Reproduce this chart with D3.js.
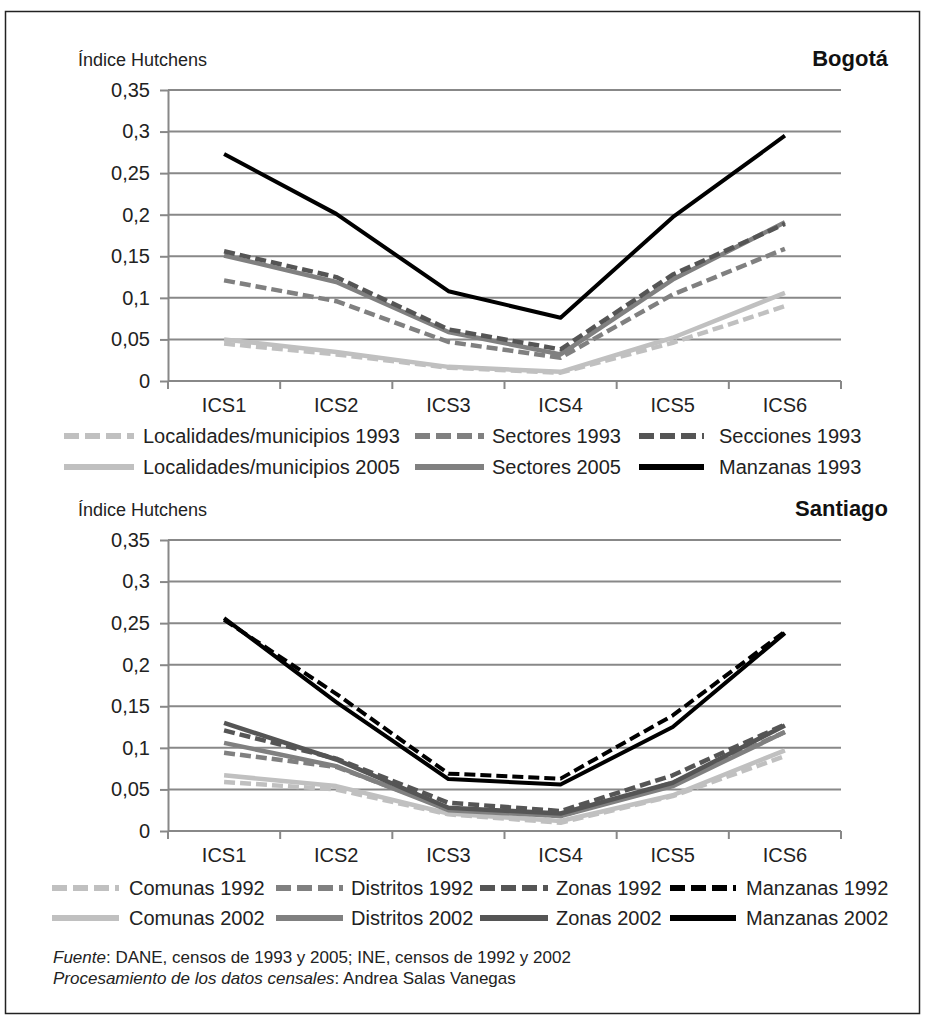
<!DOCTYPE html>
<html>
<head>
<meta charset="utf-8">
<script src="https://cdn.jsdelivr.net/npm/d3@7"></script>
<style>
  body { margin: 0; background: #fff; }
  svg { display: block; font-family: "Liberation Sans", Arial, sans-serif; }
</style>
</head>
<body>
<div id="chart"></div>
<script>
// categorias y ticks
const categories = ["ICS1", "ICS2", "ICS3", "ICS4", "ICS5", "ICS6"];
const yTicks = [0, 0.05, 0.1, 0.15, 0.2, 0.25, 0.3, 0.35];

// Bogotá
const locMun1993   = [0.045, 0.032, 0.016, 0.010, 0.046, 0.090];
const sectores1993 = [0.121, 0.096, 0.047, 0.028, 0.104, 0.159];
const secciones1993= [0.156, 0.125, 0.062, 0.038, 0.128, 0.189];
const locMun2005   = [0.050, 0.035, 0.017, 0.011, 0.052, 0.106];
const sectores2005 = [0.151, 0.119, 0.059, 0.032, 0.122, 0.191];
const manzanas1993 = [0.273, 0.201, 0.108, 0.076, 0.197, 0.295];

// Santiago
const comunas1992   = [0.059, 0.050, 0.020, 0.010, 0.042, 0.090];
const distritos1992 = [0.094, 0.077, 0.027, 0.018, 0.058, 0.119];
const zonas1992     = [0.121, 0.087, 0.034, 0.024, 0.067, 0.128];
const manzanas1992  = [0.254, 0.165, 0.069, 0.063, 0.139, 0.240];
const comunas2002   = [0.067, 0.054, 0.021, 0.012, 0.043, 0.097];
const distritos2002 = [0.106, 0.078, 0.025, 0.018, 0.054, 0.119];
const zonas2002     = [0.130, 0.086, 0.028, 0.021, 0.058, 0.127];
const manzanas2002  = [0.256, 0.155, 0.0625, 0.056, 0.125, 0.238];

const light = "#c0c0c0", mid = "#808080", dark = "#555555", black = "#000000";

const bogotaSeries = [
    {name: "Localidades/municipios 1993", values: locMun1993, color: light, dash: true},
    {name: "Sectores 1993", values: sectores1993, color: mid, dash: true},
    {name: "Secciones 1993", values: secciones1993, color: dark, dash: true},
    {name: "Localidades/municipios 2005", values: locMun2005, color: light, dash: false},
    {name: "Sectores 2005", values: sectores2005, color: mid, dash: false},
    {name: "Manzanas 1993", values: manzanas1993, color: black, dash: false}
];
// orden de dibujo (abajo -> arriba)
const bogotaOrder = [3, 0, 1, 4, 2, 5];

const santiagoSeries = [
    {name: "Comunas 1992", values: comunas1992, color: light, dash: true},
    {name: "Distritos 1992", values: distritos1992, color: mid, dash: true},
    {name: "Zonas 1992", values: zonas1992, color: dark, dash: true},
    {name: "Manzanas 1992", values: manzanas1992, color: black, dash: true},
    {name: "Comunas 2002", values: comunas2002, color: light, dash: false},
    {name: "Distritos 2002", values: distritos2002, color: mid, dash: false},
    {name: "Zonas 2002", values: zonas2002, color: dark, dash: false},
    {name: "Manzanas 2002", values: manzanas2002, color: black, dash: false}
];
const santiagoOrder = [4, 0, 5, 1, 6, 2, 7, 3];

const width = 925, height = 1021;
const left = 168, right = 841;
const fontSize = 20;

const svg = d3.select("#chart").append("svg")
    .attr("width", width)
    .attr("height", height);

// marco
svg.append("rect")
    .attr("x", 5.5).attr("y", 11.5)
    .attr("width", 914).attr("height", 1002)
    .attr("fill", "none")
    .attr("stroke", "#222")
    .attr("stroke-width", 1.5);

function drawPanel(opts) {
    const g = svg.append("g");
    const top = opts.top, bottom = opts.bottom;

    const y = d3.scaleLinear().domain([0, 0.35]).range([bottom, top]);
    const x = d3.scaleBand().domain(categories).range([left, right]).padding(0);
    const cx = d => x(d) + x.bandwidth() / 2;

    g.append("text")
        .attr("x", 78).attr("y", top - 24)
        .attr("font-size", 18).attr("fill", "#222")
        .text("Índice Hutchens");

    g.append("text")
        .attr("x", 888).attr("y", top - 24)
        .attr("text-anchor", "end")
        .attr("font-size", 22).attr("font-weight", "bold").attr("fill", "#111")
        .text(opts.title);

    // rejilla
    g.selectAll(".grid").data(yTicks.filter(t => t > 0)).enter().append("line")
        .attr("x1", left).attr("x2", right)
        .attr("y1", d => y(d)).attr("y2", d => y(d))
        .attr("stroke", "#888").attr("stroke-width", 2);

    const yAxis = d3.axisLeft(y).tickValues(yTicks).tickSize(8).tickSizeOuter(0).tickPadding(10)
        .tickFormat(d => d3.format(".2~f")(d).replace(".", ","));
    const ya = g.append("g").attr("transform", `translate(${left},0)`).call(yAxis);
    ya.select(".domain").attr("stroke", "#888").attr("stroke-width", 2);
    ya.selectAll(".tick line").attr("stroke", "#888").attr("stroke-width", 2);
    ya.selectAll(".tick text").attr("font-size", fontSize).attr("fill", "#222")
        .attr("font-family", "Liberation Sans, Arial, sans-serif");

    // eje x: marcas en los limites de cada categoria
    const bounds = d3.range(categories.length + 1).map(i => left + i * x.step());
    g.append("line")
        .attr("x1", left).attr("x2", right)
        .attr("y1", bottom).attr("y2", bottom)
        .attr("stroke", "#888").attr("stroke-width", 2);
    g.selectAll(".xtick").data(bounds).enter().append("line")
        .attr("x1", d => d).attr("x2", d => d)
        .attr("y1", bottom).attr("y2", bottom + 8)
        .attr("stroke", "#888").attr("stroke-width", 2);
    g.selectAll(".xlabel").data(categories).enter().append("text")
        .attr("x", d => cx(d)).attr("y", bottom + 31)
        .attr("text-anchor", "middle")
        .attr("font-size", fontSize).attr("fill", "#222")
        .text(d => d);

    const line = d3.line()
        .x((d, i) => cx(categories[i]))
        .y(d => y(d));

    opts.order.forEach(function (k) {
        const s = opts.series[k];
        g.append("path")
            .datum(s.values)
            .attr("fill", "none")
            .attr("stroke", s.color)
            .attr("stroke-width", s.color === black ? 4 : 4.5)
            .attr("stroke-linejoin", "round")
            .attr("stroke-dasharray", s.dash ? "11,5" : null)
            .attr("d", line);
    });

    // leyenda
    opts.legend.forEach(function (item) {
        const s = opts.series[item.k];
        const ly = opts.legendY[item.row];
        g.append("line")
            .attr("x1", item.x0).attr("x2", item.x1)
            .attr("y1", ly).attr("y2", ly)
            .attr("stroke", s.color)
            .attr("stroke-width", 6)
            .attr("stroke-dasharray", s.dash ? "15,6" : null);
        g.append("text")
            .attr("x", item.tx).attr("y", ly + 7)
            .attr("font-size", fontSize).attr("fill", "#222")
            .text(s.name);
    });
}

drawPanel({
    title: "Bogotá", top: 90, bottom: 381,
    series: bogotaSeries, order: bogotaOrder,
    legendY: [436, 467],
    legend: [
        {k: 0, row: 0, x0: 64, x1: 134, tx: 143},
        {k: 1, row: 0, x0: 415, x1: 484, tx: 492},
        {k: 2, row: 0, x0: 639, x1: 704, tx: 719},
        {k: 3, row: 1, x0: 64, x1: 134, tx: 143},
        {k: 4, row: 1, x0: 415, x1: 484, tx: 492},
        {k: 5, row: 1, x0: 639, x1: 704, tx: 719}
    ]
});

drawPanel({
    title: "Santiago", top: 540, bottom: 831,
    series: santiagoSeries, order: santiagoOrder,
    legendY: [888, 918],
    legend: [
        {k: 0, row: 0, x0: 52, x1: 119, tx: 129},
        {k: 1, row: 0, x0: 276, x1: 343, tx: 351},
        {k: 2, row: 0, x0: 480, x1: 548, tx: 556},
        {k: 3, row: 0, x0: 670, x1: 736, tx: 746},
        {k: 4, row: 1, x0: 52, x1: 119, tx: 129},
        {k: 5, row: 1, x0: 276, x1: 343, tx: 351},
        {k: 6, row: 1, x0: 480, x1: 548, tx: 556},
        {k: 7, row: 1, x0: 670, x1: 736, tx: 746}
    ]
});

// fuente
const foot = svg.append("g").attr("font-size", 17).attr("fill", "#222");
const f1 = foot.append("text").attr("x", 53).attr("y", 963);
f1.append("tspan").attr("font-style", "italic").text("Fuente");
f1.append("tspan").text(": DANE, censos de 1993 y 2005; INE, censos de 1992 y 2002");
const f2 = foot.append("text").attr("x", 53).attr("y", 984);
f2.append("tspan").attr("font-style", "italic").text("Procesamiento de los datos censales");
f2.append("tspan").text(": Andrea Salas Vanegas");
</script>
</body>
</html>
